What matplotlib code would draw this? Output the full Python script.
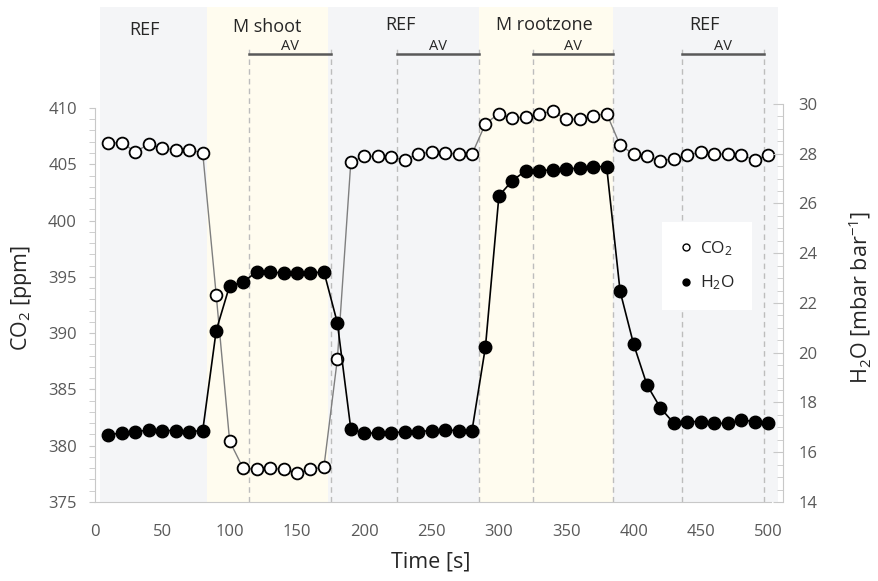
import matplotlib.pyplot as plt
from matplotlib.lines import Line2D
import numpy as np

plt.rcParams['font.family'] = ['Open Sans', 'DejaVu Sans']
plt.rcParams['mathtext.default'] = 'regular'

# Sample times [s]
time = [10, 20, 30, 40, 50, 60, 70, 80, 90, 100,
        110, 120, 130, 140, 150, 160, 170, 180, 190, 200,
        210, 220, 230, 240, 250, 260, 270, 280, 290, 300,
        310, 320, 330, 340, 350, 360, 370, 380, 390, 400,
        410, 420, 430, 440, 450, 460, 470, 480, 490, 500]

# CO2 [ppm]
co2 = [406.9, 406.9, 406.1, 406.8, 406.4, 406.3, 406.3, 406.0,
       393.4, 380.4, 378.0, 377.9, 378.0, 377.9, 377.6, 377.9, 378.1,
       387.7, 405.2, 405.7, 405.7, 405.6, 405.4, 405.9, 406.1, 406.0, 405.9, 405.9,
       408.6, 409.5, 409.1, 409.2, 409.5, 409.7, 409.0, 409.0, 409.3, 409.5,
       406.7, 405.9, 405.7, 405.3, 405.5, 405.8, 406.1, 405.9, 405.9, 405.8, 405.4, 405.8]

# H2O [mbar bar-1]
h2o = [16.71, 16.77, 16.83, 16.89, 16.87, 16.87, 16.83, 16.87,
       20.89, 22.70, 22.83, 23.26, 23.26, 23.19, 23.19, 23.19, 23.26,
       21.20, 16.93, 16.77, 16.77, 16.77, 16.83, 16.83, 16.87, 16.89, 16.87, 16.87,
       20.24, 26.31, 26.92, 27.32, 27.32, 27.35, 27.39, 27.42, 27.48, 27.48,
       22.47, 20.35, 18.70, 17.78, 17.16, 17.23, 17.23, 17.16, 17.16, 17.30, 17.23, 17.16]

# Phases (start, end, label) and averaging windows
phase_start = [3.7, 83, 173, 285, 385]
phase_end = [83, 173, 285, 385, 507]
phase_label = ["REF", "M shoot", "REF", "M rootzone", "REF"]
av_start = [114, 224, 325, 436]
av_end = [175, 285, 385, 497]

grey_bg = '#f4f5f7'
yellow_bg = '#fffcef'
tick_col = '#595959'
spine_col = '#c8c8c8'
text_col = '#262626'

fig = plt.figure(figsize=(8.79, 5.81), dpi=100)
ax = fig.add_axes([0.1081, 0.136, 0.7827, 0.852])
ax2 = ax.twinx()

# Background shading of the phases
for i in range(len(phase_label)):
    col = yellow_bg if phase_label[i].startswith("M") else grey_bg
    ax.axvspan(phase_start[i], phase_end[i], color=col, lw=0, zorder=0)

label_x = [37, 128, 227, 334, 453]
label_y = [0.953, 0.959, 0.963, 0.963, 0.963]
for i in range(len(phase_label)):
    ax.text(label_x[i], label_y[i], phase_label[i], transform=ax.get_xaxis_transform(),
            ha='center', va='center', fontsize=13, color=text_col)

# Averaging windows
xt = ax.get_xaxis_transform()
for s, e in zip(av_start, av_end):
    for x in (s, e):
        ax.axvline(x, ymin=0, ymax=0.915, color='#bdbdbd', lw=1,
                   linestyle=(0, (4, 3)), zorder=1)
    ax.plot([s, e], [0.905, 0.905], transform=xt, color='#595959', lw=1.8,
            clip_on=False, zorder=2)
    ax.text((s + e) / 2, 0.904, "AV", transform=xt, ha='center', va='bottom',
            fontsize=10.5, color=text_col)

# Data
ax.plot(time, co2, color='#7f7f7f', lw=1, marker='o', ms=8.5,
        mfc='white', mec='black', mew=1.3, zorder=3)
ax2.plot(time, h2o, color='black', lw=1.2, marker='o', ms=9,
         mfc='black', mec='black', zorder=3)

# Axes
ax.set_xlim(0, 511)
ax.set_ylim(375, 418.97)
ax2.set_ylim(14, 33.9)

ax.set_xticks(np.arange(0, 501, 50))
ax.set_yticks(np.arange(375, 411, 5))
ax.set_yticks(np.arange(375, 411, 1), minor=True)
ax2.set_yticks(np.arange(14, 31, 2))
ax2.set_yticks(np.arange(14, 30.1, 0.5), minor=True)

ax.tick_params(axis='x', length=0, pad=16, labelsize=12, labelcolor=tick_col)
ax.tick_params(axis='y', which='both', direction='out', length=4, color=spine_col,
               pad=9, labelsize=12, labelcolor=tick_col)
ax2.tick_params(axis='y', which='major', direction='in', length=7, color=spine_col,
                pad=11, labelsize=12, labelcolor=tick_col)
ax2.tick_params(axis='y', which='minor', direction='in', length=4, color=spine_col)

for s in ['top', 'right']:
    ax.spines[s].set_visible(False)
for s in ['top', 'left', 'bottom']:
    ax2.spines[s].set_visible(False)
ax.spines['left'].set_bounds(375, 410)
ax.spines['bottom'].set_bounds(0, 502)
ax2.spines['right'].set_bounds(14, 30)
for sp in [ax.spines['left'], ax.spines['bottom'], ax2.spines['right']]:
    sp.set_color(spine_col)

ax.set_xlabel("Time [s]", fontsize=15.5, color=text_col)
ax.set_ylabel("CO$_2$ [ppm]", fontsize=15.5, color=text_col)
ax2.set_ylabel("H$_2$O [mbar bar$^{-1}$]", fontsize=15.5, color=text_col)
ax.xaxis.set_label_coords(0.488, -0.10)
ax.yaxis.set_label_coords(-0.088, 0.412)
ax2.yaxis.set_label_coords(1.092, 0.414)

# Legend
handles = [Line2D([], [], ls='', marker='o', ms=5, mfc='white', mec='black', mew=1),
           Line2D([], [], ls='', marker='o', ms=5, mfc='black', mec='black')]
leg = ax2.legend(handles, ["CO$_2$", "H$_2$O"], loc='center',
                 bbox_to_anchor=(0.89, 0.477), fontsize=12.5, frameon=True,
                 facecolor='white', edgecolor='none', framealpha=1, fancybox=False,
                 handlelength=0.8, handletextpad=0.4, labelspacing=0.9, borderpad=1.0)
for t in leg.get_texts():
    t.set_color(text_col)

fig.savefig('out.png', dpi=100)
